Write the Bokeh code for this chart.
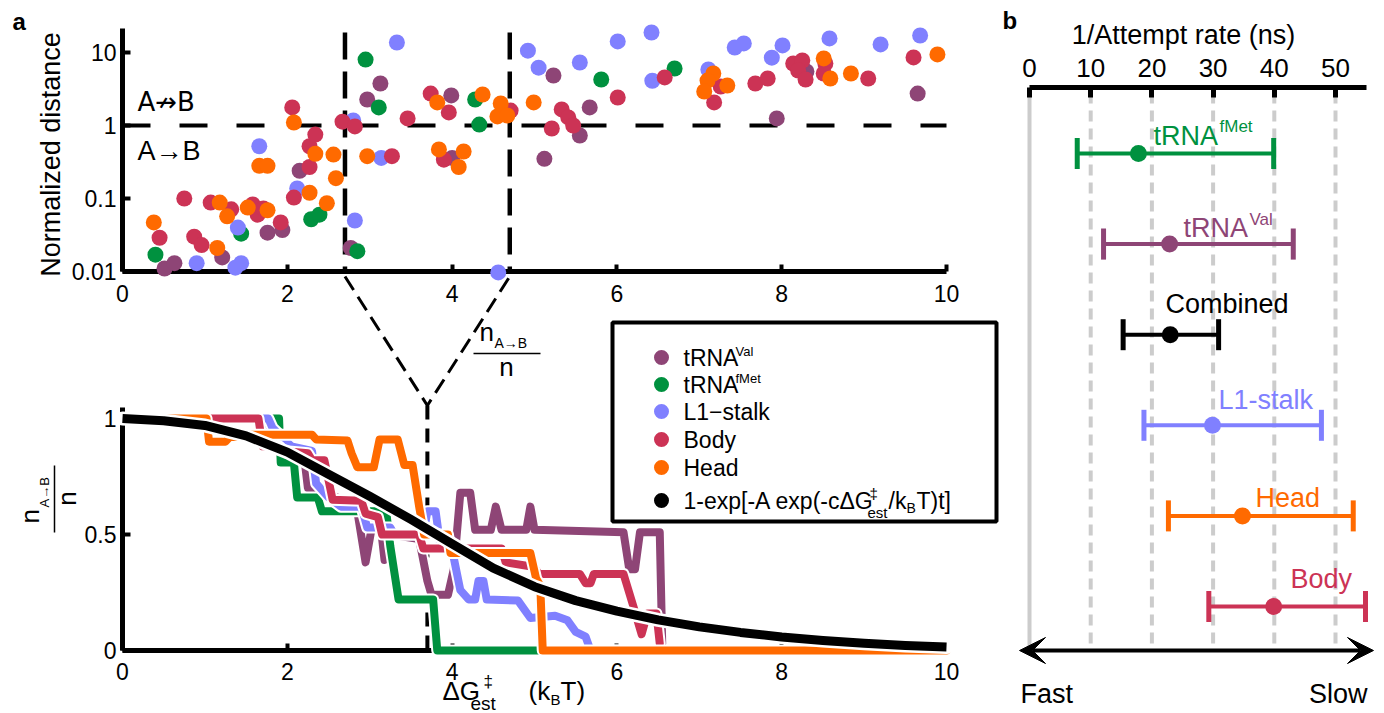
import math
from bokeh.plotting import figure
from bokeh.models import (Range1d, LogScale, LinearAxis, LogAxis, FixedTicker,
                          CustomJSTickFormatter, Label, BoxAnnotation, Arrow, VeeHead)
from bokeh.layouts import row
from bokeh.embed import file_html
from bokeh.resources import INLINE

FONT = "Liberation Sans"

# ---------------- data ----------------
region_names = ["tRNA Val", "tRNA fMet", "L1-stalk", "Body", "Head"]
region_colors = ["#8e4576", "#00913f", "#8080ff", "#cc3355", "#ff6a00"]

# panel a (top): normalized distance vs estimated barrier (kBT)
val_dg = [0.51, 0.63, 1.21, 1.76, 1.94, 2.15, 2.77, 2.97, 3.13, 3.99, 4.00, 5.23, 5.55, 5.12, 5.67, 7.94, 8.30, 9.65]
val_dist = [0.011, 0.013, 0.0156, 0.034, 0.037, 0.24, 0.021, 2.27, 3.76, 2.58, 0.36, 4.84, 0.73, 0.35, 1.77, 1.25, 5.5, 2.74]
fmet_dg = [0.40, 1.44, 2.29, 2.39, 2.85, 2.95, 3.11, 4.28, 4.33, 5.81, 6.70]
fmet_dist = [0.017, 0.033, 0.052, 0.060, 0.019, 8.0, 1.77, 2.27, 1.03, 4.27, 6.04]
l1_dg = [0.90, 1.40, 1.37, 1.44, 1.66, 2.12, 2.80, 2.82, 3.14, 3.33, 4.56, 4.92, 5.05, 5.55, 6.01,
         6.42, 6.43, 7.11, 7.43, 7.54, 7.88, 8.01, 8.58, 9.20, 9.68]
l1_dist = [0.013, 0.040, 0.0113, 0.013, 0.52, 0.137, 1.17, 0.050, 0.36, 13.7, 0.0097, 10.6, 6.2, 7.3, 14.2,
           18.8, 4.1, 5.85, 11.7, 13.3, 8.5, 12.5, 15.6, 12.9, 17.1]
body_dg = [0.45, 0.75, 0.87, 0.96, 1.07, 1.32, 1.58, 1.64, 1.71, 1.92, 2.06, 2.08, 2.27, 2.27, 2.34,
           2.67, 2.82, 3.27, 3.46, 3.74, 3.96, 3.90, 4.71, 5.21, 5.33, 5.41, 5.47, 6.01, 6.58, 7.26,
           7.18, 7.68, 7.83, 8.14, 8.25, 8.20, 8.29, 8.53, 8.51, 9.05, 9.60]
body_dist = [0.029, 0.10, 0.030, 0.023, 0.088, 0.071, 0.083, 0.060, 0.073, 0.047, 1.77, 0.103, 0.27, 0.52, 0.75,
             1.13, 0.97, 0.38, 1.25, 2.74, 1.51, 0.34, 1.6, 0.91, 1.66, 1.29, 1.0, 2.42, 4.55, 3.42,
             2.07, 3.76, 4.4, 7.07, 7.77, 5.67, 4.27, 7.07, 5.16, 4.4, 8.55]
head_dg = [0.38, 1.15, 1.18, 1.27, 1.52, 1.76, 1.66, 1.76, 2.08, 2.34, 2.27, 2.48, 2.56, 2.59, 2.97,
           3.82, 3.84, 4.08, 4.14, 4.37, 4.55, 4.59, 4.67, 4.99, 7.17, 7.10, 7.34, 7.06, 8.51, 8.59, 8.84, 9.89]
head_dist = [0.047, 0.021, 0.088, 0.057, 0.075, 0.069, 0.28, 0.28, 1.1, 0.41, 0.12, 0.086, 0.40, 0.19, 0.38,
             2.07, 0.47, 0.27, 0.44, 2.66, 1.33, 2.0, 1.37, 2.07, 5.16, 4.13, 3.53, 2.92, 8.3, 4.4, 5.16, 9.4]

split_distance = 1.0          # A->B boundary
dg_window = [2.7, 4.7]        # window used for the lower panel threshold
dg_mid = 3.7

# panel a (bottom): fraction n(A->B)/n vs barrier
val_curve_x = [0.4, 1.7, 1.75, 2.2, 2.25, 2.6, 2.85, 2.95, 3.05, 3.12, 3.18, 3.25, 3.6, 3.7, 3.75, 3.95,
               4.02, 4.1, 4.22, 4.28, 4.47, 4.53, 4.6, 4.9, 4.95, 5.0, 6.08, 6.15, 6.22, 6.28, 6.52, 6.55]
val_curve_y = [1.0, 1.0, 0.88, 0.85, 0.7, 0.66, 0.6, 0.38, 0.58, 0.58, 0.39, 0.5, 0.48, 0.3, 0.24, 0.24,
               0.35, 0.68, 0.68, 0.52, 0.52, 0.62, 0.52, 0.52, 0.62, 0.52, 0.51, 0.35, 0.35, 0.51, 0.51, 0.03]
fmet_curve_x = [0.4, 1.9, 1.92, 2.08, 2.12, 2.37, 2.42, 3.2, 3.25, 3.35, 3.77, 3.82, 5.05]
fmet_curve_y = [1.0, 1.0, 0.81, 0.81, 0.66, 0.66, 0.6, 0.6, 0.45, 0.22, 0.22, 0.0, 0.0]
l1_curve_x = [0.4, 1.77, 1.82, 2.05, 2.3, 2.35, 2.5, 2.65, 2.9, 2.97, 3.25, 3.3, 3.65, 3.7, 3.8, 3.85,
              3.98, 4.1, 4.2, 4.28, 4.32, 4.38, 4.42, 4.8, 4.95, 5.25, 5.4, 5.5, 5.62, 5.68, 6.05]
l1_curve_y = [1.0, 1.0, 0.96, 0.88, 0.86, 0.72, 0.66, 0.62, 0.62, 0.53, 0.53, 0.5, 0.5, 0.6, 0.6, 0.47,
              0.47, 0.26, 0.22, 0.22, 0.3, 0.3, 0.22, 0.215, 0.14, 0.15, 0.13, 0.08, 0.06, 0.0, 0.0]
body_curve_x = [0.4, 1.65, 1.7, 1.9, 1.95, 2.25, 2.3, 2.45, 2.55, 2.9, 2.95, 3.1, 3.15, 3.6, 3.65,
                4.6, 4.65, 5.0, 5.05, 5.55, 5.62, 5.68, 5.72, 6.08, 6.2, 6.3, 6.37, 6.48, 6.52]
body_curve_y = [1.0, 1.0, 0.88, 0.88, 0.86, 0.85, 0.82, 0.82, 0.65, 0.645, 0.59, 0.575, 0.5, 0.5, 0.44,
                0.44, 0.38, 0.36, 0.33, 0.33, 0.29, 0.29, 0.33, 0.33, 0.19, 0.07, 0.16, 0.16, 0.03]
head_curve_x = [0.4, 1.02, 1.05, 1.25, 1.3, 1.5, 1.55, 2.3, 2.35, 2.73, 2.78, 2.85, 3.05, 3.12, 3.34,
                3.42, 3.52, 3.6, 3.66, 3.95, 3.98, 4.95, 5.02, 5.07, 5.1, 10.0]
head_curve_y = [1.0, 1.0, 0.9, 0.9, 0.92, 0.92, 0.93, 0.93, 0.91, 0.905, 0.85, 0.79, 0.79, 0.91, 0.91,
                0.8, 0.8, 0.62, 0.5, 0.5, 0.42, 0.42, 0.31, 0.28, 0.0, 0.0]
fit_x = [0, 0.5, 1, 1.5, 2, 2.5, 3, 3.5, 4, 4.5, 5, 5.5, 6, 6.5, 7, 7.5, 8, 8.5, 9, 9.5, 10]
fit_y = [1.0, 0.99, 0.97, 0.925, 0.855, 0.76, 0.665, 0.565, 0.46, 0.355, 0.275, 0.215, 0.17, 0.132,
         0.102, 0.078, 0.058, 0.043, 0.031, 0.022, 0.015]

dg_ticks = [0, 2, 4, 6, 8, 10]
dist_ticks = [0.01, 0.1, 1, 10]
frac_ticks = [0, 0.5, 1]

# panel b: 1/attempt rate (ns)
b_names = ["tRNA fMet", "tRNA Val", "Combined", "L1-stalk", "Head", "Body"]
b_colors = ["#00913f", "#8e4576", "#000000", "#8080ff", "#ff6a00", "#cc3355"]
b_center = [17.8, 22.9, 23.0, 29.9, 34.8, 39.9]
b_low = [7.8, 12.1, 15.3, 18.7, 22.7, 29.3]
b_high = [39.9, 43.1, 30.9, 47.7, 52.9, 54.9]
rate_ticks = [0, 10, 20, 30, 40, 50]


# ---------------- layout helpers (pixel -> data) ----------------
def ax(px): return (px - 122) / 82.4
def ay(py): return (650 - py) / 232.0
def alog(py): return 10 ** (-2 + (271 - py) / 73.0)
def bx(px): return (px - 1029) / 6.12
def by(py): return (py - 153) / 90.6


def style_axis(a, font_px, standoff, tick_in=8, tick_w=4):
    a.axis_line_width = 5
    a.axis_line_color = "black"
    a.major_tick_line_width = tick_w
    a.major_tick_line_color = "black"
    a.major_tick_in = tick_in
    a.major_tick_out = 0
    a.minor_tick_line_color = None
    a.minor_tick_in = 0
    a.minor_tick_out = 0
    a.major_label_text_font = FONT
    a.major_label_text_font_size = f"{font_px}px"
    a.major_label_text_color = "black"
    a.major_label_standoff = standoff


BASE_SHIFT = 0.34  # anchor correction so that (px, py) is the text baseline


def lab(fig, mx, my, px, py, text, size, color="black", align="left",
        rotated=False, bold=False, font=FONT):
    if rotated:
        px = px - BASE_SHIFT * size
    else:
        py = py - BASE_SHIFT * size
    fig.add_layout(Label(x=mx(px), y=my(py), text=text, text_font=font, text_font_size=f"{size}px",
                         text_color=color, text_align=align, text_baseline="alphabetic",
                         angle=math.pi / 2 if rotated else 0.0,
                         text_font_style="bold" if bold else "normal"))


fmt = CustomJSTickFormatter(code="return String(tick);")

# ================= panel a =================
pa = figure(frame_width=1000, frame_height=713, min_border=0,
            x_range=Range1d(ax(0), ax(1000)), y_range=Range1d(ay(713), ay(0)),
            x_axis_type=None, y_axis_type=None, output_backend="svg", toolbar_location=None)
pa.extra_y_ranges = {"log": Range1d(alog(713), alog(0))}
pa.extra_y_scales = {"log": LogScale()}
pa.outline_line_color = None
pa.title.visible = False
pa.background_fill_color = "white"
pa.border_fill_color = "white"

# reference lines (top)
pa.line([dg_ticks[0], dg_ticks[-1]], [split_distance, split_distance], y_range_name="log",
        line_width=4, line_color="black", line_dash="28 29")
pa.segment(x0=dg_window, y0=[alog(32)] * 2, x1=dg_window, y1=[dist_ticks[0]] * 2,
           y_range_name="log", line_width=4.5, line_color="black", line_dash="27 12")
# V connector and threshold line (bottom)
pa.line([dg_window[0], dg_mid, dg_window[1]], [ay(276), ay(405), ay(276)],
        line_width=3, line_color="black", line_dash="16 8", line_join="miter")
pa.line([dg_mid, dg_mid], [ay(405), 0], line_width=4, line_color="black", line_dash="14 9")

# axes
top_x = LinearAxis(fixed_location=ay(271), bounds=(0, 10), ticker=FixedTicker(ticks=dg_ticks), formatter=fmt)
style_axis(top_x, 23, 13, tick_in=7)
pa.add_layout(top_x, "below")
top_y = LogAxis(y_range_name="log", fixed_location=0, bounds=(dist_ticks[0], alog(28)),
                ticker=FixedTicker(ticks=dist_ticks), formatter=fmt)
style_axis(top_y, 23, 6)
pa.add_layout(top_y, "left")
bot_x = LinearAxis(fixed_location=0, bounds=(0, 10), ticker=FixedTicker(ticks=dg_ticks), formatter=fmt)
style_axis(bot_x, 23, 12, tick_in=7)
pa.add_layout(bot_x, "below")
bot_y = LinearAxis(fixed_location=0, bounds=(0, ay(407)), ticker=FixedTicker(ticks=frac_ticks), formatter=fmt)
style_axis(bot_y, 23, 6)
pa.add_layout(bot_y, "left")

# scatter points
scatter_sets = [(val_dg, val_dist), (fmet_dg, fmet_dist), (l1_dg, l1_dist), (body_dg, body_dist), (head_dg, head_dist)]
for (xs, ys), c in zip(scatter_sets, region_colors):
    pa.scatter(xs, ys, y_range_name="log", size=16, fill_color=c, line_color=None, level="overlay")

# fraction curves
curve_sets = [(val_curve_x, val_curve_y), (fmet_curve_x, fmet_curve_y), (l1_curve_x, l1_curve_y),
              (body_curve_x, body_curve_y), (head_curve_x, head_curve_y)]
for (xs, ys), c in zip(curve_sets, region_colors):
    pa.line(xs, ys, line_width=12, line_color="white", line_join="round", line_cap="round", level="overlay")
    pa.line(xs, ys, line_width=8, line_color=c, line_join="round", line_cap="round", level="overlay")
pa.line(fit_x, fit_y, line_width=14, line_color="white", line_join="round", line_cap="round", level="overlay")
pa.line(fit_x, fit_y, line_width=9, line_color="black", line_join="round", line_cap="butt", level="overlay")


# texts panel a
def labA(*args, **kw):
    lab(pa, ax, ay, *args, **kw)


labA(12, 29, "a", 24, bold=True)
labA(60, 154, "Normalized distance", 27, align="center", rotated=True)
labA(137, 110, "A\u219bB", 26, font="DejaVu Sans")
labA(137, 160, "A\u2192B", 27)
# rotated fraction  n_{A->B} / n
labA(38, 523, "n", 26, rotated=True)
labA(48, 507, "A\u2192B", 13, rotated=True)
pa.segment(x0=[ax(54)], y0=[ay(532)], x1=[ax(54)], y1=[ay(465)], line_width=1.5, line_color="black")
labA(75, 498, "n", 26, align="center", rotated=True)
# upright fraction near the V
labA(479, 340, "n", 26)
labA(494, 347, "A\u2192B", 14)
pa.segment(x0=[ax(473)], y0=[ay(353)], x1=[ax(540)], y1=[ay(353)], line_width=1.5, line_color="black")
labA(506, 375, "n", 26, align="center")
# x label  ΔG‡_est (k_B T)
labA(442, 699, "\u0394G", 26)
labA(483, 687, "\u2021", 17)
labA(470, 709, "est", 19)
labA(528, 699, "(k", 26)
labA(550, 704, "B", 15)
labA(560, 699, "T)", 26)

# legend
pa.add_layout(BoxAnnotation(left=ax(612), right=ax(996), bottom=ay(521), top=ay(322),
                            fill_color=None, line_color="black", line_alpha=1.0, line_width=4))
leg_rows = [357, 384, 411, 439, 467, 500]
pa.scatter([ax(661)] * 6, [ay(r) for r in leg_rows], size=15,
           fill_color=region_colors + ["black"], line_color=None)
TX = 683
labA(TX, leg_rows[0] + 8, "tRNA", 23)
labA(TX + 52, leg_rows[0] - 2, "Val", 13)
labA(TX, leg_rows[1] + 8, "tRNA", 23)
labA(TX + 52, leg_rows[1] - 2, "fMet", 13)
labA(TX, leg_rows[2] + 8, "L1\u2212stalk", 23)
labA(TX, leg_rows[3] + 8, "Body", 23)
labA(TX, leg_rows[4] + 8, "Head", 23)
E = TX + 184
r5 = leg_rows[5]
labA(TX, r5 + 8, "1-exp[-A exp(-c\u0394G", 23)
labA(E + 2, r5 - 2, "\u2021", 15)
labA(E, r5 + 17, "est", 15)
labA(E + 21, r5 + 8, "/k", 23)
labA(E + 39, r5 + 12, "B", 14)
labA(E + 49, r5 + 8, "T)t]", 23)

# ================= panel b =================
pb = figure(frame_width=384, frame_height=713, min_border=0,
            x_range=Range1d(bx(1000), bx(1384)), y_range=Range1d(by(713), by(0)),
            x_axis_type=None, y_axis_type=None, output_backend="svg", toolbar_location=None)
pb.outline_line_color = None
pb.title.visible = False
pb.background_fill_color = "white"
pb.border_fill_color = "white"

pb.segment(x0=rate_ticks[:1], y0=[by(90)], x1=rate_ticks[:1], y1=[by(650)],
           line_width=4, line_color="#cccccc")
pb.segment(x0=rate_ticks[1:], y0=[by(92)] * 5, x1=rate_ticks[1:], y1=[by(650)] * 5,
           line_width=4, line_color="#cccccc", line_dash="11 7")

b_axis = LinearAxis(fixed_location=by(87), bounds=(0, bx(1366)), ticker=FixedTicker(ticks=rate_ticks), formatter=fmt)
style_axis(b_axis, 26, 11, tick_in=10, tick_w=5)
pb.add_layout(b_axis, "above")

rows = list(range(len(b_names)))
cap = 15.5 / 90.6
pb.segment(x0=b_low, y0=rows, x1=b_high, y1=rows, line_width=4, line_color=b_colors)
pb.segment(x0=b_low, y0=[r - cap for r in rows], x1=b_low, y1=[r + cap for r in rows],
           line_width=5, line_color=b_colors)
pb.segment(x0=b_high, y0=[r - cap for r in rows], x1=b_high, y1=[r + cap for r in rows],
           line_width=5, line_color=b_colors)
pb.scatter(b_center, rows, size=17, fill_color=b_colors, line_color=None)

pb.add_layout(Arrow(x_start=bx(1019), y_start=by(650), x_end=bx(1373), y_end=by(650),
                    line_width=4, line_color="black",
                    start=VeeHead(size=26, fill_color="black", line_color="black"),
                    end=VeeHead(size=26, fill_color="black", line_color="black")))


def labB(*args, **kw):
    lab(pb, bx, by, *args, **kw)


labB(1002, 28, "b", 24, bold=True)
labB(1183, 44, "1/Attempt rate (ns)", 27, align="center")
labB(1153, 145, "tRNA", 27, color=b_colors[0])
labB(1219, 132, "fMet", 17, color=b_colors[0])
labB(1183, 237, "tRNA", 27, color=b_colors[1])
labB(1249, 225, "Val", 17, color=b_colors[1])
labB(1165, 313, "Combined", 27, color=b_colors[2])
labB(1218, 409, "L1-stalk", 27, color=b_colors[3])
labB(1255, 507, "Head", 27, color=b_colors[4])
labB(1290, 588, "Body", 27, color=b_colors[5])
labB(1020, 703, "Fast", 27)
labB(1367, 703, "Slow", 27, align="right")

layout = row(pa, pb)
open("out.html", "w").write(file_html(layout, INLINE))
